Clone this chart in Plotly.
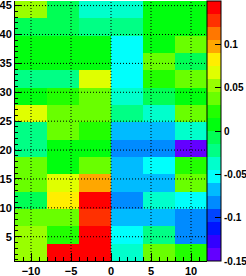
import colorsys
import plotly.graph_objects as go

# bin edges
x_edges = [-12, -8, -4, 0, 4, 8, 12]
y_edges = [0.8, 3.8, 6.8, 9.8, 12.8, 15.8, 18.8, 21.8, 24.8, 27.8,
           30.8, 33.8, 36.8, 39.8, 42.8, 45.8]

# cell values, rows from bottom (y) to top, columns left to right (x)
z = [
    [0.052, 0.142, 0.142, -0.038, 0.038, 0.022],
    [0.052, 0.022, 0.142, -0.052, -0.022, -0.082],
    [0.038, 0.038, 0.128, -0.068, -0.068, -0.082],
    [-0.008, 0.082, 0.142, -0.082, -0.038, -0.052],
    [0.038, 0.068, 0.098, -0.068, -0.068, 0.038],
    [0.038, 0.008, 0.038, -0.068, -0.052, 0.022],
    [-0.022, 0.008, 0.008, -0.082, -0.082, -0.142],
    [-0.022, 0.038, 0.022, -0.068, -0.068, -0.038],
    [0.068, 0.038, 0.038, -0.022, -0.038, 0.038],
    [0.008, 0.022, 0.038, -0.038, -0.008, 0.008],
    [-0.022, -0.022, 0.068, -0.052, 0.022, 0.038],
    [0.008, 0.008, 0.008, -0.052, 0.038, -0.008],
    [0.008, 0.008, 0.008, -0.052, 0.008, 0.038],
    [-0.008, -0.008, -0.022, -0.022, 0.008, 0.008],
    [0.052, -0.008, -0.038, -0.038, 0.008, 0.008],
]

x_ticks = [-10, -5, 0, 5, 10]
y_ticks = [5, 10, 15, 20, 25, 30, 35, 40, 45]
cb_tickvals = [-0.15, -0.1, -0.05, 0, 0.05, 0.1]
cb_ticktext = ["-0.15", "-0.1", "-0.05", "0", "0.05", "0.1"]
zmin, zmax = -0.15, 0.15

# ROOT "pretty" palette (50 colours), 20 contour levels
pal = []
for i in range(50):
    hue = 280 - (i + 1) * 280 / 50
    r, g, b = colorsys.hls_to_rgb(hue / 360.0, 0.5, 1.0)
    pal.append("rgb(%d,%d,%d)" % (round(r * 255), round(g * 255), round(b * 255)))
ndiv = 20
cs = []
for k in range(ndiv):
    c = pal[int((k + 0.99) * 50 / ndiv)]
    cs.append([k / ndiv, c])
    cs.append([(k + 1) / ndiv, c])

font = dict(family="Liberation Sans, Arial, sans-serif", size=11, color="black", weight="bold")

fig = go.Figure()
fig.add_trace(go.Heatmap(
    x=x_edges, y=y_edges, z=z, zmin=zmin, zmax=zmax, colorscale=cs,
    colorbar=dict(
        thickness=14, thicknessmode="pixels", len=1, lenmode="fraction",
        x=1, xanchor="left", xpad=0, y=0.5, yanchor="middle", ypad=0,
        outlinewidth=1, outlinecolor="black",
        tickmode="array", tickvals=cb_tickvals, ticktext=cb_ticktext,
        ticks="inside", ticklen=6, tickcolor="black", tickwidth=1,
        tickfont=dict(family="Liberation Sans, Arial, sans-serif", size=10, color="black", weight="bold"),
    ),
    hoverinfo="skip",
))

shapes = []
for xv in x_ticks:
    shapes.append(dict(type="line", xref="x", yref="paper", x0=xv, x1=xv, y0=0, y1=1,
                       line=dict(color="black", width=1, dash="1px,2px"), layer="above"))
for yv in y_ticks:
    shapes.append(dict(type="line", xref="paper", yref="y", x0=0, x1=1, y0=yv, y1=yv,
                       line=dict(color="black", width=1, dash="1px,2px"), layer="above"))

fig.update_layout(
    width=246, height=276,
    margin=dict(l=15, r=39, t=1, b=15, pad=0, autoexpand=False),
    paper_bgcolor="white", plot_bgcolor="white",
    shapes=shapes,
    xaxis=dict(range=[-12, 12], tickmode="array", tickvals=x_ticks,
               ticks="inside", ticklen=8, tickcolor="black", tickwidth=1,
               showline=True, linecolor="black", linewidth=1, mirror=False,
               showgrid=False, zeroline=False, layer="above traces", tickfont=font,
               ticklabeloverflow="allow",
               minor=dict(ticks="inside", ticklen=4, tickcolor="black", tickmode="linear",
                          tick0=0, dtick=1, showgrid=False)),
    yaxis=dict(range=[y_edges[0], y_edges[-1]], tickmode="array", tickvals=y_ticks,
               ticks="inside", ticklen=6, tickcolor="black", tickwidth=1,
               showline=True, linecolor="black", linewidth=1, mirror=False,
               showgrid=False, zeroline=False, layer="above traces", tickfont=font,
               ticklabeloverflow="allow",
               minor=dict(ticks="inside", ticklen=3, tickcolor="black", tickmode="linear",
                          tick0=0, dtick=1, showgrid=False)),
)

fig.write_html("out.html")
